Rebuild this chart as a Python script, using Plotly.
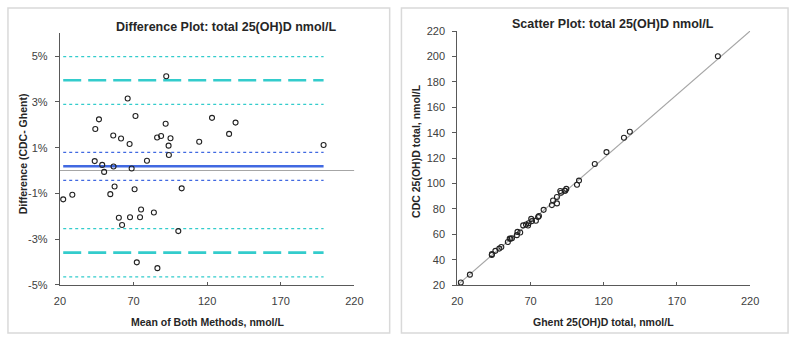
import plotly.graph_objects as go

# Paired 25(OH)D totals (nmol/L) measured by both laboratories
ghent = [22.34, 28.55, 43.51, 43.60, 45.98, 48.64, 50.02, 54.48, 55.77, 56.35,
         57.30, 60.62, 61.07, 62.94, 64.96, 66.91, 68.29, 68.67, 70.99, 70.45,
         73.65, 75.16, 75.74, 78.93, 84.57, 85.38, 88.04, 88.03, 90.86, 90.30,
         93.29, 93.68, 94.43, 101.73, 103.10, 113.88, 121.88, 133.82, 137.84, 197.99]
cdc = [22.06, 28.25, 43.69, 44.40, 47.02, 48.76, 49.99, 53.92, 56.63, 56.45,
       56.90, 59.38, 61.93, 61.46, 67.04, 67.69, 66.91, 68.73, 70.41, 72.15,
       70.75, 73.64, 74.46, 79.27, 83.03, 86.62, 84.36, 89.37, 92.74, 94.10,
       94.31, 94.32, 95.77, 99.07, 102.30, 115.32, 124.72, 135.98, 140.76, 200.21]

# Bland-Altman summary lines (% difference)
bias = 0.19
bias_ci = [-0.43, 0.79]
loa = [-3.59, 3.95]
loa_ci = [-4.65, -2.54, 2.89, 4.98]

diff_ticks = [-5, -3, -1, 1, 3, 5]
mean_ticks = [20, 70, 120, 170, 220]
conc_ticks = [20, 40, 60, 80, 100, 120, 140, 160, 180, 200, 220]

mean_both = [(g + c) / 2 for g, c in zip(ghent, cdc)]
pct_diff = [(c - g) / m * 100 for g, c, m in zip(ghent, cdc, mean_both)]

W, H = 800, 342
FONT = "Liberation Sans, Arial, sans-serif"
TXT = "#262626"
TICK = "#404040"
AXIS = "#595959"
CYAN = "#33cccc"
BLUE = "#4169e1"


def py(p):
    return 1 - p / H


def px(p):
    return p / W


fig = go.Figure()

x_lo, x_hi = min(mean_both), max(mean_both)


def hline(y, color, width, dash, x0=x_lo, x1=x_hi):
    fig.add_trace(go.Scatter(x=[x0, x1], y=[y, y], mode="lines",
                             line=dict(color=color, width=width, dash=dash),
                             xaxis="x", yaxis="y", hoverinfo="skip",
                             showlegend=False))


hline(0, "#a6a6a6", 1.2, "solid", 20, 220)
for v in loa_ci:
    hline(v, CYAN, 1.2, "dot")
for v in loa:
    hline(v, CYAN, 2.6, "18px,7px")
for v in bias_ci:
    hline(v, BLUE, 1.2, "dot")
hline(bias, BLUE, 2.6, "solid")

fig.add_trace(go.Scatter(x=mean_both, y=pct_diff, mode="markers",
                         marker=dict(symbol="circle-open", size=5,
                                     color="#222222", line=dict(width=1.1)),
                         xaxis="x", yaxis="y", showlegend=False))

# Scatter panel: identity line and paired results
fig.add_trace(go.Scatter(x=[20, 220], y=[20, 220], mode="lines",
                         line=dict(color="#a6a6a6", width=1.2),
                         xaxis="x2", yaxis="y2", showlegend=False))
fig.add_trace(go.Scatter(x=ghent, y=cdc, mode="markers",
                         marker=dict(symbol="circle-open", size=5,
                                     color="#222222", line=dict(width=1.1)),
                         xaxis="x2", yaxis="y2", showlegend=False))

axis_common = dict(showgrid=False, zeroline=False, showline=True,
                   linecolor=AXIS, linewidth=1.2, tickcolor=AXIS, tickwidth=1,
                   tickfont=dict(family=FONT, size=11, color=TICK))
x_axis = dict(ticks="inside", ticklen=3, ticklabelstandoff=6, **axis_common)
y_axis = dict(ticks="outside", ticklen=4, ticklabelstandoff=5, **axis_common)

fig.update_layout(
    width=W, height=H,
    margin=dict(l=0, r=0, t=0, b=0),
    paper_bgcolor="white", plot_bgcolor="white",
    xaxis=dict(domain=[px(55), px(355)], range=[20, 220],
               tickvals=mean_ticks, anchor="y", **x_axis),
    yaxis=dict(domain=[py(289), py(28.3)], range=[-5, 6],
               tickvals=diff_ticks, ticktext=[f"{t}%" for t in diff_ticks],
               anchor="x", **y_axis),
    xaxis2=dict(domain=[px(460), px(758.3)], range=[20, 220],
                tickvals=mean_ticks, anchor="y2", **x_axis),
    yaxis2=dict(domain=[py(289.3), py(26)], range=[20, 220],
                tickvals=conc_ticks, anchor="x2", **y_axis),
)

# Panel frames
for x0, x1 in [(2, 391), (403, 797)]:
    fig.add_shape(type="rect", xref="paper", yref="paper",
                  x0=px(x0), x1=px(x1), y0=py(339), y1=py(2),
                  line=dict(color="#d9d9d9", width=1.5))


def label(text, x, y, size, angle=0):
    fig.add_annotation(text=f"<b>{text}</b>", x=px(x), y=py(y),
                       xref="paper", yref="paper", showarrow=False,
                       textangle=angle, xanchor="center", yanchor="middle",
                       font=dict(family=FONT, size=size, color=TXT))


label("Difference Plot: total 25(OH)D nmol/L", 225, 22, 12.5)
label("Scatter Plot: total 25(OH)D nmol/L", 619, 19, 12.5)
label("Mean of Both Methods, nmol/L", 205, 328, 10.5)
label("Ghent 25(OH)D total, nmol/L", 608.5, 328, 10.5)
label("Difference (CDC- Ghent)", 17, 153, 10.5, -90)
label("CDC 25(OH)D total, nmol/L", 418, 150, 10.5, -90)

fig.write_html("out.html")
